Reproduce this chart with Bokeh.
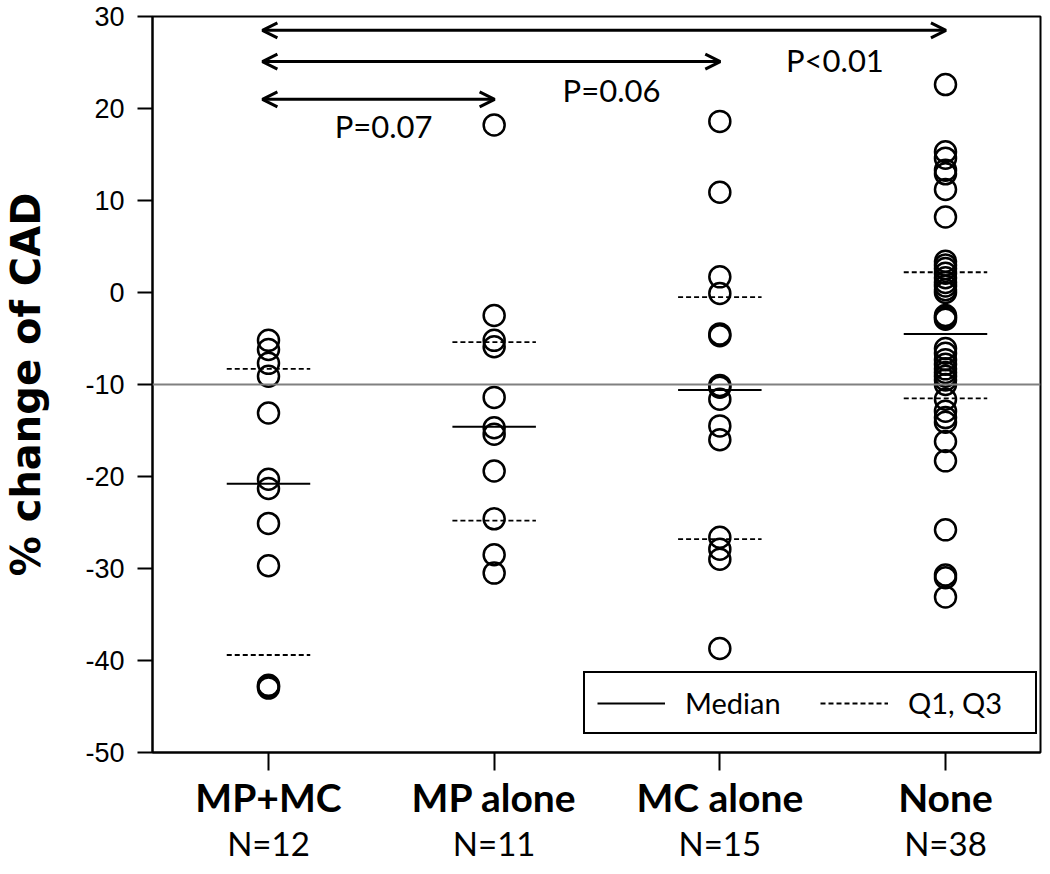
from bokeh.plotting import figure
from bokeh.models import (FixedTicker, LinearAxis, Span, Arrow, OpenHead,
                          Legend, LegendItem, ColumnDataSource)
from bokeh.core.properties import value
from bokeh.embed import file_html
from bokeh.resources import INLINE

# ---------------- data ----------------
categories = ["MP+MC", "MP alone", "MC alone", "None"]
count_labels = ["N=12", "N=11", "N=15", "N=38"]

mp_mc = [-5.2, -6.2, -7.7, -9.1, -13.1, -20.3, -21.3, -25.1, -29.7, -42.7, -42.8, -43.0]
mp_alone = [18.2, -2.5, -5.2, -5.9, -11.4, -14.7, -15.4, -19.4, -24.6, -28.5, -30.5]
mc_alone = [18.6, 10.9, 1.7, -0.1, -4.5, -4.7, -10.1, -10.3, -11.6, -14.5, -16.0,
            -26.6, -27.9, -29.0, -38.7]
none_grp = [22.6, 15.3, 14.6, 13.3, 12.9, 11.2, 8.2,
            3.4, 3.0, 2.6, 2.1, 1.6, 1.1, 0.7, 0.3, 0.0,
            -2.5, -2.7, -2.9,
            -6.1, -6.6, -7.3, -7.8, -8.3, -8.7, -9.1, -9.5, -10.0,
            -11.6, -12.9, -13.6, -14.1, -16.2, -18.3, -25.8, -30.7, -31.0, -33.1]
groups = [mp_mc, mp_alone, mc_alone, none_grp]

medians = [-20.8, -14.6, -10.6, -4.5]
q_upper = [-8.3, -5.4, -0.5, 2.2]
q_lower = [-39.4, -24.8, -26.8, -11.5]

y_ticks = [-50, -40, -30, -20, -10, 0, 10, 20, 30]
reference_value = -10

comp_from = ["MP+MC", "MP+MC", "MP+MC"]
comp_to = ["MP alone", "MC alone", "None"]
comp_p = ["P=0.07", "P=0.06", "P<0.01"]

# ---------------- figure ----------------
HUM = "Lato"
pos = {c: i + 1 for i, c in enumerate(categories)}

p = figure(width=1042, height=866, x_range=(0.486, 4.421), y_range=(-50, 30),
           output_backend="svg", toolbar_location=None,
           min_border_left=152, min_border_right=2, min_border_top=16,
           min_border_bottom=114)
p.grid.visible = False
p.outline_line_color = "black"
p.outline_line_width = 2
p.background_fill_color = "white"
p.border_fill_color = "white"

# y axis
ya = p.yaxis[0]
ya.ticker = FixedTicker(ticks=y_ticks)
ya.major_label_overrides = {t: str(t) for t in y_ticks}
ya.minor_tick_line_color = None
ya.major_tick_in = 0
ya.major_tick_out = 15
ya.major_tick_line_width = 2
ya.axis_line_width = 2
ya.major_label_text_font = "Liberation Sans"
ya.major_label_text_font_size = "27px"
ya.major_label_text_color = "black"
ya.major_label_standoff = 13
ya.axis_label = "% change of CAD"
ya.axis_label_text_font = "DejaVu Sans"
ya.axis_label_text_font_style = "bold"
ya.axis_label_text_font_size = "40px"
ya.axis_label_text_color = "black"
ya.axis_label_standoff = 33

# x axis: group names
xa = p.xaxis[0]
xa.ticker = FixedTicker(ticks=[pos[c] for c in categories])
xa.major_label_overrides = {pos[c]: c for c in categories}
xa.minor_tick_line_color = None
xa.major_tick_in = 0
xa.major_tick_out = 18
xa.major_tick_line_width = 2
xa.axis_line_width = 2
xa.major_label_text_font = HUM
xa.major_label_text_font_style = "bold"
xa.major_label_text_font_size = "39px"
xa.major_label_text_color = "black"
xa.major_label_standoff = 3

# second x axis: counts
xa2 = LinearAxis(ticker=FixedTicker(ticks=[pos[c] for c in categories]),
                 major_label_overrides={pos[c]: n for c, n in zip(categories, count_labels)})
xa2.axis_line_color = None
xa2.major_tick_line_color = None
xa2.minor_tick_line_color = None
xa2.major_tick_in = 0
xa2.major_tick_out = 0
xa2.major_label_text_font = HUM
xa2.major_label_text_font_size = "33px"
xa2.major_label_text_color = "black"
xa2.major_label_standoff = 0
p.add_layout(xa2, "below")

# reference line
p.add_layout(Span(location=reference_value, dimension="width",
                  line_color="#808080", line_width=1.8))

# points
xs, ys = [], []
for c, vals in zip(categories, groups):
    xs += [pos[c]] * len(vals)
    ys += vals
p.scatter(x=xs, y=ys, size=21, marker="circle", fill_color=None,
          line_color="black", line_width=2.5)

# medians and quartiles
hw = 0.185
cx = [pos[c] for c in categories]
med_src = ColumnDataSource(dict(x0=[x - hw for x in cx], x1=[x + hw for x in cx], y=medians))
med_r = p.segment(x0="x0", x1="x1", y0="y", y1="y", source=med_src,
                  line_color="black", line_width=2)
q_src = ColumnDataSource(dict(x0=[x - hw for x in cx] * 2, x1=[x + hw for x in cx] * 2,
                              y=q_upper + q_lower))
q_r = p.segment(x0="x0", x1="x1", y0="y", y1="y", source=q_src,
                line_color="black", line_width=1.8, line_dash="5 3")

# comparison arrows
arrow_levels = [21.0, 25.1, 28.5]
for a, b, yl in zip(comp_from, comp_to, arrow_levels):
    p.add_layout(Arrow(start=OpenHead(size=15, line_width=3, line_color="black"),
                       end=OpenHead(size=15, line_width=3, line_color="black"),
                       x_start=pos[a] - 0.027, x_end=pos[b] + 0.002,
                       y_start=yl, y_end=yl, line_width=3, line_color="black"))
p.text(x=[1.51, 2.52, 3.51], y=[18.1, 22.0, 25.3], text=comp_p,
       text_font=value(HUM), text_font_size="31px", text_color="black",
       text_align="center", text_baseline="middle")

# legend
legend = Legend(items=[LegendItem(label="Median", renderers=[med_r]),
                       LegendItem(label="Q1, Q3", renderers=[q_r])],
                orientation="horizontal", location=(431, 18))
legend.label_text_font = HUM
legend.label_text_font_size = "29px"
legend.label_text_color = "black"
legend.glyph_width = 68
legend.label_standoff = 20
legend.label_width = 115
legend.spacing = 20
legend.padding = 12
legend.margin = 0
legend.border_line_color = "black"
legend.border_line_alpha = 1
legend.border_line_width = 2
legend.background_fill_alpha = 1
p.add_layout(legend, "center")

open("out.html", "w").write(file_html(p, INLINE))
